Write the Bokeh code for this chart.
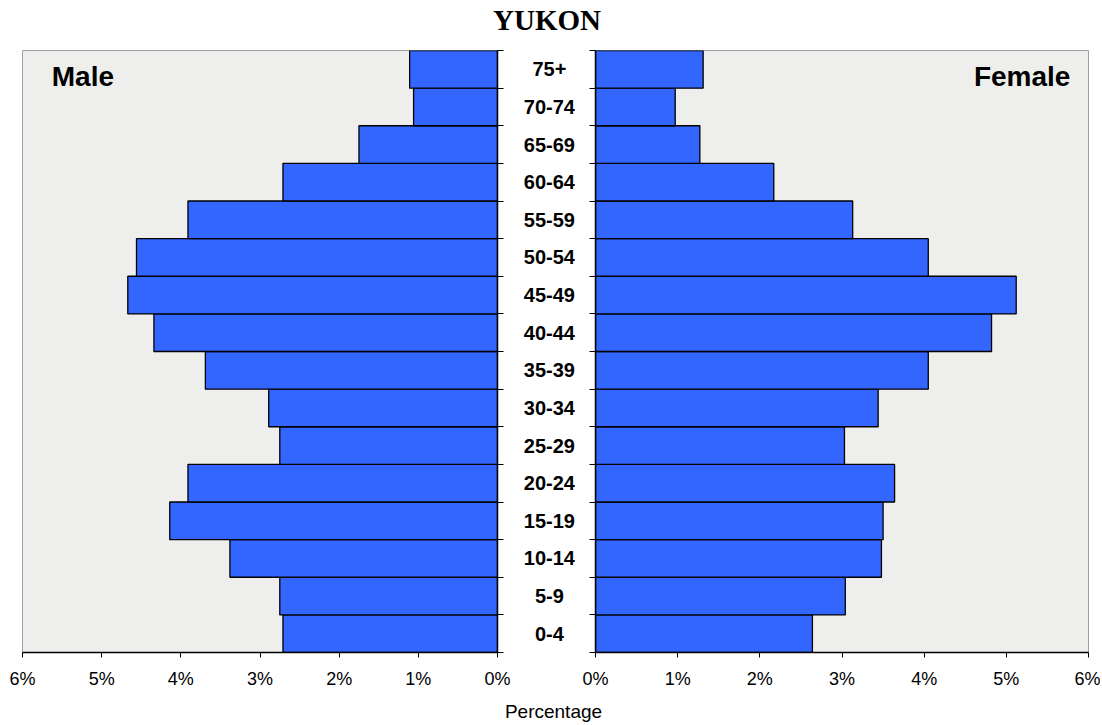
import numpy as np
from bokeh.plotting import figure
from bokeh.layouts import row, column
from bokeh.models import Range1d, FixedTicker
from bokeh.core.properties import value
from bokeh.embed import file_html
from bokeh.resources import INLINE

# ---------------- data ----------------
chart_title = "YUKON"
age_groups = ["0-4", "5-9", "10-14", "15-19", "20-24", "25-29", "30-34", "35-39",
              "40-44", "45-49", "50-54", "55-59", "60-64", "65-69", "70-74", "75+"]
male_pct = [2.71, 2.75, 3.38, 4.14, 3.91, 2.75, 2.89, 3.69,
            4.34, 4.67, 4.56, 3.91, 2.71, 1.75, 1.06, 1.11]
female_pct = [2.64, 3.04, 3.48, 3.50, 3.64, 3.03, 3.44, 4.05,
              4.82, 5.12, 4.05, 3.13, 2.17, 1.27, 0.97, 1.31]
x_ticks = [0, 1, 2, 3, 4, 5, 6]
x_tick_labels = ["0%", "1%", "2%", "3%", "4%", "5%", "6%"]
male_label = "Male"
female_label = "Female"
axis_title = "Percentage"

# ---------------- style ----------------
BAR = "#3366FF"
BG = "#EEEEEC"
OUTLINE = "#A0A0A0"
SANS = "Liberation Sans"
SERIF = "Liberation Serif"
TOTAL_W = 1100

n = len(age_groups)
ys = np.arange(n) + 0.5
y_rng = Range1d(0, n)
FRAME_TOP = 5
FRAME_BOTTOM = 45
ROW_H = 652


def style_common(p):
    p.grid.visible = False
    xa = p.xaxis[0]
    xa.ticker = FixedTicker(ticks=x_ticks)
    xa.major_label_overrides = {t: l for t, l in zip(x_ticks, x_tick_labels)}
    xa.axis_line_color = "black"
    xa.axis_line_width = 1.5
    xa.major_tick_line_color = "black"
    xa.major_tick_out = 5
    xa.major_tick_in = 0
    xa.minor_tick_line_color = None
    xa.major_label_text_font = SANS
    xa.major_label_text_font_size = "18px"
    xa.major_label_text_color = "black"
    xa.major_label_standoff = 11
    ya = p.yaxis[0]
    ya.ticker = FixedTicker(ticks=list(range(n + 1)))
    ya.major_label_overrides = {i: "" for i in range(n + 1)}
    ya.major_label_text_font_size = "0px"
    ya.major_label_standoff = 0
    ya.axis_line_color = "black"
    ya.axis_line_width = 1.5
    ya.major_tick_line_color = "black"
    ya.major_tick_out = 6
    ya.major_tick_in = 0
    ya.minor_tick_line_color = None


# ---------------- left (male) ----------------
left = figure(width=517, height=ROW_H, x_range=Range1d(6, 0), y_range=y_rng,
              y_axis_location="right", output_backend="svg", toolbar_location=None,
              min_border_left=22, min_border_right=20, min_border_top=FRAME_TOP,
              min_border_bottom=FRAME_BOTTOM, background_fill_color=BG,
              outline_line_color=OUTLINE, border_fill_color="white")
left.hbar(y=ys, height=1, left=0, right=male_pct, fill_color=BAR,
          line_color="black", line_width=1.3)
style_common(left)
left.text(x=[5.63], y=[15.31], text=[male_label], text_font=value(SANS),
          text_font_style="bold", text_font_size="28px", text_align="left",
          text_baseline="middle", text_color="black")

# ---------------- middle (age labels) ----------------
mid = figure(width=58, height=ROW_H, x_range=Range1d(0, 1), y_range=y_rng,
             x_axis_location=None, y_axis_location=None, output_backend="svg",
             toolbar_location=None, min_border_left=0, min_border_right=0,
             min_border_top=FRAME_TOP, min_border_bottom=FRAME_BOTTOM,
             outline_line_color=None, background_fill_color="white")
mid.grid.visible = False
mid.text(x=[0.55] * n, y=ys, text=age_groups, text_font=value(SANS),
         text_font_style="bold", text_font_size="20px", text_align="center",
         text_baseline="middle", text_color="black")

# ---------------- right (female) ----------------
right = figure(width=TOTAL_W - 517 - 58, height=ROW_H, x_range=Range1d(0, 6),
               y_range=y_rng, y_axis_location="left", output_backend="svg",
               toolbar_location=None, min_border_left=20, min_border_right=12,
               min_border_top=FRAME_TOP, min_border_bottom=FRAME_BOTTOM,
               background_fill_color=BG, outline_line_color=OUTLINE,
               border_fill_color="white")
right.hbar(y=ys, height=1, left=0, right=female_pct, fill_color=BAR,
           line_color="black", line_width=1.3)
style_common(right)
right.text(x=[5.78], y=[15.31], text=[female_label], text_font=value(SANS),
           text_font_style="bold", text_font_size="28px", text_align="right",
           text_baseline="middle", text_color="black")

# ---------------- title and axis title ----------------
top = figure(width=TOTAL_W, height=45, x_range=Range1d(0, 1), y_range=Range1d(0, 1),
             x_axis_location=None, y_axis_location=None, output_backend="svg",
             toolbar_location=None, min_border=0, outline_line_color=None)
top.grid.visible = False
top.text(x=[546.5 / TOTAL_W], y=[0.556], text=[chart_title], text_font=value(SERIF),
         text_font_style="bold", text_font_size="29px", text_align="center",
         text_baseline="middle", text_color="black")

bottom = figure(width=TOTAL_W, height=26, x_range=Range1d(0, 1), y_range=Range1d(0, 1),
                x_axis_location=None, y_axis_location=None, output_backend="svg",
                toolbar_location=None, min_border=0, outline_line_color=None)
bottom.grid.visible = False
bottom.text(x=[553 / TOTAL_W], y=[0.46], text=[axis_title], text_font=value(SANS),
            text_font_size="19px", text_align="center", text_baseline="middle",
            text_color="black")

layout = column(top, row(left, mid, right, spacing=0), bottom, spacing=0)

with open("out.html", "w") as f:
    f.write(file_html(layout, INLINE))
